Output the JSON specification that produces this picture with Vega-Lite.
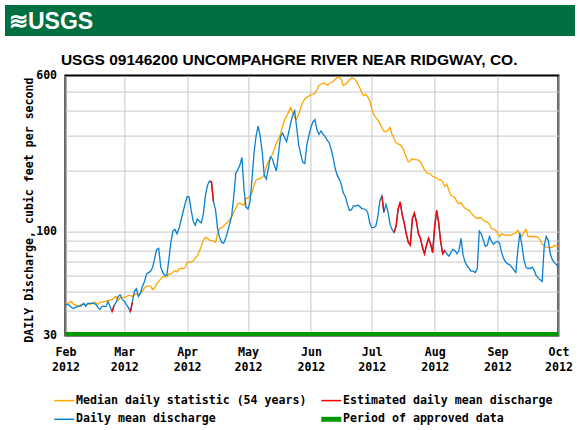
{
  "$schema": "https://vega.github.io/schema/vega-lite/v6.json",
  "background": "white",
  "padding": {"left": 5, "top": 5, "right": 5, "bottom": 0},
  "spacing": 16.6,
  "config": {
    "view": {"stroke": null},
    "axis": {"labelFont": "DejaVu Sans Mono", "labelFontWeight": "bold", "labelFontSize": 11.6, "labelColor": "#000", "titleFont": "DejaVu Sans Mono", "titleFontWeight": "bold", "titleFontSize": 11.6, "titleColor": "#000", "gridColor": "#C8C8C8", "gridWidth": 1, "gridOpacity": 1, "domain": false, "ticks": false}
  },
  "datasets": {
    "median": [
      {"d":"2012-02-01","v":43.5},{"d":"2012-02-02","v":43.5},{"d":"2012-02-03","v":44},{"d":"2012-02-04","v":44.5},{"d":"2012-02-05","v":43},{"d":"2012-02-06","v":42.5},{"d":"2012-02-07","v":42},{"d":"2012-02-08","v":42.5},{"d":"2012-02-09","v":43},{"d":"2012-02-10","v":43},{"d":"2012-02-11","v":43},{"d":"2012-02-12","v":43},{"d":"2012-02-13","v":43},{"d":"2012-02-14","v":43.5},{"d":"2012-02-15","v":44},{"d":"2012-02-16","v":44},{"d":"2012-02-17","v":43},{"d":"2012-02-18","v":44},{"d":"2012-02-19","v":44},{"d":"2012-02-20","v":44.5},{"d":"2012-02-21","v":44.5},{"d":"2012-02-22","v":45},{"d":"2012-02-23","v":45},{"d":"2012-02-24","v":45.5},{"d":"2012-02-25","v":46.5},{"d":"2012-02-26","v":47},{"d":"2012-02-27","v":45},{"d":"2012-02-28","v":46.5},{"d":"2012-02-29","v":46.5},
      {"d":"2012-03-01","v":46.7},{"d":"2012-03-02","v":47},{"d":"2012-03-03","v":47.6},{"d":"2012-03-04","v":47.6},{"d":"2012-03-05","v":47.2},{"d":"2012-03-06","v":48},{"d":"2012-03-07","v":48.5},{"d":"2012-03-08","v":48},{"d":"2012-03-09","v":49},{"d":"2012-03-10","v":50},{"d":"2012-03-11","v":52},{"d":"2012-03-12","v":53},{"d":"2012-03-13","v":53},{"d":"2012-03-14","v":53},{"d":"2012-03-15","v":51},{"d":"2012-03-16","v":52},{"d":"2012-03-17","v":54.4},{"d":"2012-03-18","v":56},{"d":"2012-03-19","v":57.7},{"d":"2012-03-20","v":59},{"d":"2012-03-21","v":59},{"d":"2012-03-22","v":59.2},{"d":"2012-03-23","v":61},{"d":"2012-03-24","v":61},{"d":"2012-03-25","v":62.5},{"d":"2012-03-26","v":63.4},{"d":"2012-03-27","v":62.5},{"d":"2012-03-28","v":64.5},{"d":"2012-03-29","v":65},{"d":"2012-03-30","v":65},{"d":"2012-03-31","v":65.5},
      {"d":"2012-04-01","v":69.8},{"d":"2012-04-02","v":70.4},{"d":"2012-04-03","v":70},{"d":"2012-04-04","v":71},{"d":"2012-04-05","v":73.5},{"d":"2012-04-06","v":75},{"d":"2012-04-07","v":79},{"d":"2012-04-08","v":84},{"d":"2012-04-09","v":90},{"d":"2012-04-10","v":93},{"d":"2012-04-11","v":92},{"d":"2012-04-12","v":90},{"d":"2012-04-13","v":89.5},{"d":"2012-04-14","v":89},{"d":"2012-04-15","v":88},{"d":"2012-04-16","v":97},{"d":"2012-04-17","v":103},{"d":"2012-04-18","v":104},{"d":"2012-04-19","v":106},{"d":"2012-04-20","v":108.5},{"d":"2012-04-21","v":111},{"d":"2012-04-22","v":114},{"d":"2012-04-23","v":118},{"d":"2012-04-24","v":124},{"d":"2012-04-25","v":130},{"d":"2012-04-26","v":137},{"d":"2012-04-27","v":138},{"d":"2012-04-28","v":136},{"d":"2012-04-29","v":135},{"d":"2012-04-30","v":146},
      {"d":"2012-05-01","v":146},{"d":"2012-05-02","v":150},{"d":"2012-05-03","v":156},{"d":"2012-05-04","v":170},{"d":"2012-05-05","v":180},{"d":"2012-05-06","v":183},{"d":"2012-05-07","v":183},{"d":"2012-05-08","v":186},{"d":"2012-05-09","v":190},{"d":"2012-05-10","v":210},{"d":"2012-05-11","v":222},{"d":"2012-05-12","v":232},{"d":"2012-05-13","v":242},{"d":"2012-05-14","v":258},{"d":"2012-05-15","v":275},{"d":"2012-05-16","v":290},{"d":"2012-05-17","v":305},{"d":"2012-05-18","v":335},{"d":"2012-05-19","v":360},{"d":"2012-05-20","v":375},{"d":"2012-05-21","v":395},{"d":"2012-05-22","v":415},{"d":"2012-05-23","v":395},{"d":"2012-05-24","v":370},{"d":"2012-05-25","v":364},{"d":"2012-05-26","v":385},{"d":"2012-05-27","v":415},{"d":"2012-05-28","v":440},{"d":"2012-05-29","v":460},{"d":"2012-05-30","v":467},{"d":"2012-05-31","v":474},
      {"d":"2012-06-01","v":480},{"d":"2012-06-02","v":484},{"d":"2012-06-03","v":490},{"d":"2012-06-04","v":510},{"d":"2012-06-05","v":535},{"d":"2012-06-06","v":543},{"d":"2012-06-07","v":550},{"d":"2012-06-08","v":548},{"d":"2012-06-09","v":536},{"d":"2012-06-10","v":548},{"d":"2012-06-11","v":554},{"d":"2012-06-12","v":562},{"d":"2012-06-13","v":575},{"d":"2012-06-14","v":587},{"d":"2012-06-15","v":587},{"d":"2012-06-16","v":575},{"d":"2012-06-17","v":535},{"d":"2012-06-18","v":543},{"d":"2012-06-19","v":554},{"d":"2012-06-20","v":570},{"d":"2012-06-21","v":583},{"d":"2012-06-22","v":583},{"d":"2012-06-23","v":570},{"d":"2012-06-24","v":550},{"d":"2012-06-25","v":525},{"d":"2012-06-26","v":495},{"d":"2012-06-27","v":475},{"d":"2012-06-28","v":484},{"d":"2012-06-29","v":470},{"d":"2012-06-30","v":450},
      {"d":"2012-07-01","v":410},{"d":"2012-07-02","v":385},{"d":"2012-07-03","v":370},{"d":"2012-07-04","v":360},{"d":"2012-07-05","v":346},{"d":"2012-07-06","v":330},{"d":"2012-07-07","v":316},{"d":"2012-07-08","v":314},{"d":"2012-07-09","v":320},{"d":"2012-07-10","v":330},{"d":"2012-07-11","v":305},{"d":"2012-07-12","v":290},{"d":"2012-07-13","v":277},{"d":"2012-07-14","v":273},{"d":"2012-07-15","v":270},{"d":"2012-07-16","v":263},{"d":"2012-07-17","v":250},{"d":"2012-07-18","v":235},{"d":"2012-07-19","v":222},{"d":"2012-07-20","v":225},{"d":"2012-07-21","v":230},{"d":"2012-07-22","v":228},{"d":"2012-07-23","v":228},{"d":"2012-07-24","v":226},{"d":"2012-07-25","v":222},{"d":"2012-07-26","v":212},{"d":"2012-07-27","v":203},{"d":"2012-07-28","v":196},{"d":"2012-07-29","v":194},{"d":"2012-07-30","v":193.5},{"d":"2012-07-31","v":188},
      {"d":"2012-08-01","v":186},{"d":"2012-08-02","v":185},{"d":"2012-08-03","v":180},{"d":"2012-08-04","v":181},{"d":"2012-08-05","v":176},{"d":"2012-08-06","v":167},{"d":"2012-08-07","v":172},{"d":"2012-08-08","v":160},{"d":"2012-08-09","v":151},{"d":"2012-08-10","v":149},{"d":"2012-08-11","v":147},{"d":"2012-08-12","v":140},{"d":"2012-08-13","v":137},{"d":"2012-08-14","v":139},{"d":"2012-08-15","v":133},{"d":"2012-08-16","v":130},{"d":"2012-08-17","v":128},{"d":"2012-08-18","v":127},{"d":"2012-08-19","v":123},{"d":"2012-08-20","v":120},{"d":"2012-08-21","v":117},{"d":"2012-08-22","v":116},{"d":"2012-08-23","v":116},{"d":"2012-08-24","v":117},{"d":"2012-08-25","v":113},{"d":"2012-08-26","v":112},{"d":"2012-08-27","v":111},{"d":"2012-08-28","v":108},{"d":"2012-08-29","v":103},{"d":"2012-08-30","v":102},{"d":"2012-08-31","v":101},
      {"d":"2012-09-01","v":98},{"d":"2012-09-02","v":94},{"d":"2012-09-03","v":97},{"d":"2012-09-04","v":96},{"d":"2012-09-05","v":95},{"d":"2012-09-06","v":96},{"d":"2012-09-07","v":95},{"d":"2012-09-08","v":96},{"d":"2012-09-09","v":97},{"d":"2012-09-10","v":98},{"d":"2012-09-11","v":101},{"d":"2012-09-12","v":96},{"d":"2012-09-13","v":94},{"d":"2012-09-14","v":99},{"d":"2012-09-15","v":102},{"d":"2012-09-16","v":94},{"d":"2012-09-17","v":94},{"d":"2012-09-18","v":94},{"d":"2012-09-19","v":94},{"d":"2012-09-20","v":94},{"d":"2012-09-21","v":93},{"d":"2012-09-22","v":90},{"d":"2012-09-23","v":86},{"d":"2012-09-24","v":85},{"d":"2012-09-25","v":83},{"d":"2012-09-26","v":83},{"d":"2012-09-27","v":83},{"d":"2012-09-28","v":83},{"d":"2012-09-29","v":85},{"d":"2012-09-30","v":84},{"d":"2012-10-01","v":84}
    ],
    "daily": [
      {"d":"2012-02-01","v":43},{"d":"2012-02-02","v":43},{"d":"2012-02-03","v":42.5},{"d":"2012-02-04","v":41.5},{"d":"2012-02-05","v":41},{"d":"2012-02-06","v":41.5},{"d":"2012-02-07","v":42},{"d":"2012-02-08","v":42},{"d":"2012-02-09","v":42.5},{"d":"2012-02-10","v":43.5},{"d":"2012-02-11","v":42},{"d":"2012-02-12","v":43.5},{"d":"2012-02-13","v":43.5},{"d":"2012-02-14","v":43.5},{"d":"2012-02-15","v":43.5},{"d":"2012-02-16","v":43},{"d":"2012-02-17","v":41.5},{"d":"2012-02-18","v":40.5},{"d":"2012-02-19","v":42},{"d":"2012-02-20","v":42},{"d":"2012-02-21","v":42},{"d":"2012-02-22","v":44.5},{"d":"2012-02-23","v":42},{"d":"2012-02-24","v":39.5},{"d":"2012-02-25","v":42.5},{"d":"2012-02-26","v":44},{"d":"2012-02-27","v":47},{"d":"2012-02-28","v":48},{"d":"2012-02-29","v":45.5},
      {"d":"2012-03-01","v":44.5},{"d":"2012-03-02","v":43},{"d":"2012-03-03","v":41.5},{"d":"2012-03-04","v":39.5},{"d":"2012-03-05","v":44},{"d":"2012-03-06","v":50},{"d":"2012-03-07","v":51.5},{"d":"2012-03-08","v":47},{"d":"2012-03-09","v":49},{"d":"2012-03-10","v":53},{"d":"2012-03-11","v":56},{"d":"2012-03-12","v":61},{"d":"2012-03-13","v":62},{"d":"2012-03-14","v":63},{"d":"2012-03-15","v":66},{"d":"2012-03-16","v":73},{"d":"2012-03-17","v":81},{"d":"2012-03-18","v":82},{"d":"2012-03-19","v":66},{"d":"2012-03-20","v":62},{"d":"2012-03-21","v":60},{"d":"2012-03-22","v":60},{"d":"2012-03-23","v":72},{"d":"2012-03-24","v":88},{"d":"2012-03-25","v":100},{"d":"2012-03-26","v":102},{"d":"2012-03-27","v":97},{"d":"2012-03-28","v":103},{"d":"2012-03-29","v":113},{"d":"2012-03-30","v":125},{"d":"2012-03-31","v":137},
      {"d":"2012-04-01","v":149},{"d":"2012-04-02","v":148},{"d":"2012-04-03","v":127},{"d":"2012-04-04","v":112},{"d":"2012-04-05","v":107},{"d":"2012-04-06","v":115},{"d":"2012-04-07","v":112},{"d":"2012-04-08","v":110},{"d":"2012-04-09","v":122},{"d":"2012-04-10","v":150},{"d":"2012-04-11","v":169},{"d":"2012-04-12","v":178},{"d":"2012-04-13","v":176},{"d":"2012-04-14","v":140},{"d":"2012-04-15","v":128},{"d":"2012-04-16","v":103},{"d":"2012-04-17","v":93},{"d":"2012-04-18","v":88},{"d":"2012-04-19","v":87},{"d":"2012-04-20","v":92},{"d":"2012-04-21","v":100},{"d":"2012-04-22","v":109},{"d":"2012-04-23","v":120},{"d":"2012-04-24","v":150},{"d":"2012-04-25","v":195},{"d":"2012-04-26","v":203},{"d":"2012-04-27","v":214},{"d":"2012-04-28","v":234},{"d":"2012-04-29","v":163},{"d":"2012-04-30","v":132},
      {"d":"2012-05-01","v":129},{"d":"2012-05-02","v":140},{"d":"2012-05-03","v":183},{"d":"2012-05-04","v":248},{"d":"2012-05-05","v":300},{"d":"2012-05-06","v":335},{"d":"2012-05-07","v":300},{"d":"2012-05-08","v":250},{"d":"2012-05-09","v":190},{"d":"2012-05-10","v":182},{"d":"2012-05-11","v":205},{"d":"2012-05-12","v":235},{"d":"2012-05-13","v":230},{"d":"2012-05-14","v":213},{"d":"2012-05-15","v":200},{"d":"2012-05-16","v":243},{"d":"2012-05-17","v":295},{"d":"2012-05-18","v":310},{"d":"2012-05-19","v":295},{"d":"2012-05-20","v":280},{"d":"2012-05-21","v":310},{"d":"2012-05-22","v":345},{"d":"2012-05-23","v":380},{"d":"2012-05-24","v":400},{"d":"2012-05-25","v":330},{"d":"2012-05-26","v":270},{"d":"2012-05-27","v":243},{"d":"2012-05-28","v":221},{"d":"2012-05-29","v":218},{"d":"2012-05-30","v":270},{"d":"2012-05-31","v":300},
      {"d":"2012-06-01","v":330},{"d":"2012-06-02","v":352},{"d":"2012-06-03","v":361},{"d":"2012-06-04","v":320},{"d":"2012-06-05","v":305},{"d":"2012-06-06","v":317},{"d":"2012-06-07","v":305},{"d":"2012-06-08","v":298},{"d":"2012-06-09","v":285},{"d":"2012-06-10","v":277},{"d":"2012-06-11","v":257},{"d":"2012-06-12","v":232},{"d":"2012-06-13","v":205},{"d":"2012-06-14","v":190},{"d":"2012-06-15","v":182},{"d":"2012-06-16","v":171},{"d":"2012-06-17","v":155},{"d":"2012-06-18","v":149},{"d":"2012-06-19","v":136},{"d":"2012-06-20","v":127},{"d":"2012-06-21","v":128},{"d":"2012-06-22","v":134},{"d":"2012-06-23","v":133},{"d":"2012-06-24","v":135},{"d":"2012-06-25","v":133},{"d":"2012-06-26","v":130},{"d":"2012-06-27","v":129},{"d":"2012-06-28","v":128},{"d":"2012-06-29","v":124},{"d":"2012-06-30","v":110},
      {"d":"2012-07-01","v":104},{"d":"2012-07-02","v":104},{"d":"2012-07-03","v":106},{"d":"2012-07-04","v":118},{"d":"2012-07-05","v":142},{"d":"2012-07-06","v":150},{"d":"2012-07-07","v":124},{"d":"2012-07-08","v":136},{"d":"2012-07-09","v":125},{"d":"2012-07-10","v":108},{"d":"2012-07-11","v":102},{"d":"2012-07-12","v":98.5},{"d":"2012-07-13","v":106},{"d":"2012-07-14","v":129},{"d":"2012-07-15","v":140},{"d":"2012-07-16","v":121},{"d":"2012-07-17","v":110},{"d":"2012-07-18","v":97},{"d":"2012-07-19","v":88},{"d":"2012-07-20","v":85},{"d":"2012-07-21","v":115},{"d":"2012-07-22","v":123},{"d":"2012-07-23","v":112},{"d":"2012-07-24","v":97},{"d":"2012-07-25","v":92},{"d":"2012-07-26","v":83},{"d":"2012-07-27","v":77},{"d":"2012-07-28","v":85},{"d":"2012-07-29","v":92},{"d":"2012-07-30","v":86},{"d":"2012-07-31","v":78},
      {"d":"2012-08-01","v":105},{"d":"2012-08-02","v":127},{"d":"2012-08-03","v":110},{"d":"2012-08-04","v":88},{"d":"2012-08-05","v":77},{"d":"2012-08-06","v":80},{"d":"2012-08-07","v":77},{"d":"2012-08-08","v":75},{"d":"2012-08-09","v":78},{"d":"2012-08-10","v":81},{"d":"2012-08-11","v":80},{"d":"2012-08-12","v":77},{"d":"2012-08-13","v":80},{"d":"2012-08-14","v":92},{"d":"2012-08-15","v":76},{"d":"2012-08-16","v":70},{"d":"2012-08-17","v":67},{"d":"2012-08-18","v":65},{"d":"2012-08-19","v":63},{"d":"2012-08-20","v":63},{"d":"2012-08-21","v":62},{"d":"2012-08-22","v":65},{"d":"2012-08-23","v":100},{"d":"2012-08-24","v":97},{"d":"2012-08-25","v":90},{"d":"2012-08-26","v":84},{"d":"2012-08-27","v":85},{"d":"2012-08-28","v":94},{"d":"2012-08-29","v":89},{"d":"2012-08-30","v":86},{"d":"2012-08-31","v":88},
      {"d":"2012-09-01","v":89},{"d":"2012-09-02","v":87},{"d":"2012-09-03","v":78},{"d":"2012-09-04","v":73},{"d":"2012-09-05","v":70},{"d":"2012-09-06","v":68.5},{"d":"2012-09-07","v":68},{"d":"2012-09-08","v":66},{"d":"2012-09-09","v":64},{"d":"2012-09-10","v":62},{"d":"2012-09-11","v":80},{"d":"2012-09-12","v":98},{"d":"2012-09-13","v":85},{"d":"2012-09-14","v":72},{"d":"2012-09-15","v":66},{"d":"2012-09-16","v":65},{"d":"2012-09-17","v":65},{"d":"2012-09-18","v":66},{"d":"2012-09-19","v":64},{"d":"2012-09-20","v":60},{"d":"2012-09-21","v":58.5},{"d":"2012-09-22","v":57},{"d":"2012-09-23","v":56},{"d":"2012-09-24","v":84},{"d":"2012-09-25","v":94},{"d":"2012-09-26","v":90},{"d":"2012-09-27","v":77},{"d":"2012-09-28","v":72},{"d":"2012-09-29","v":69.5},{"d":"2012-09-30","v":68},{"d":"2012-10-01","v":66}
    ],
    "est": [
      {"seg":"a","d":"2012-02-24","v":39.5},{"seg":"a","d":"2012-02-25","v":42.5},
      {"seg":"b","d":"2012-03-04","v":39.5},{"seg":"b","d":"2012-03-05","v":44},
      {"seg":"c","d":"2012-04-12","v":178},{"seg":"c","d":"2012-04-13","v":176},{"seg":"c","d":"2012-04-14","v":140},
      {"seg":"d","d":"2012-07-06","v":150},{"seg":"d","d":"2012-07-07","v":124},
      {"seg":"e","d":"2012-07-12","v":98.5},{"seg":"e","d":"2012-07-13","v":106},{"seg":"e","d":"2012-07-14","v":129},{"seg":"e","d":"2012-07-15","v":140},{"seg":"e","d":"2012-07-16","v":121},{"seg":"e","d":"2012-07-17","v":110},{"seg":"e","d":"2012-07-18","v":97},{"seg":"e","d":"2012-07-19","v":88},{"seg":"e","d":"2012-07-20","v":85},{"seg":"e","d":"2012-07-21","v":115},{"seg":"e","d":"2012-07-22","v":123},{"seg":"e","d":"2012-07-23","v":112},{"seg":"e","d":"2012-07-24","v":97},{"seg":"e","d":"2012-07-25","v":92},{"seg":"e","d":"2012-07-26","v":83},{"seg":"e","d":"2012-07-27","v":77},{"seg":"e","d":"2012-07-28","v":85},{"seg":"e","d":"2012-07-29","v":92},{"seg":"e","d":"2012-07-30","v":86},{"seg":"e","d":"2012-07-31","v":78},{"seg":"e","d":"2012-08-01","v":105},{"seg":"e","d":"2012-08-02","v":127},{"seg":"e","d":"2012-08-03","v":110},{"seg":"e","d":"2012-08-04","v":88},{"seg":"e","d":"2012-08-05","v":77},{"seg":"e","d":"2012-08-06","v":80}
    ],
    "approved": [
      {"d":"2012-02-01","v":30},{"d":"2012-10-01","v":30}
    ]
  },
  "vconcat": [
    {
      "width": 570,
      "height": 31,
      "view": {"fill": "#006F41", "stroke": null},
      "data": {"values": [{"logo": "≋USGS"}]},
      "mark": {"type": "text", "align": "left", "baseline": "middle", "dx": -281, "dy": 1, "font": "Liberation Sans", "fontWeight": "bold", "fontSize": 23, "color": "white"},
      "encoding": {"text": {"field": "logo", "type": "nominal"}}
    },
    {
      "spacing": -6.6,
      "title": {"text": "USGS 09146200 UNCOMPAHGRE RIVER NEAR RIDGWAY, CO.", "font": "Liberation Sans", "fontSize": 15.5, "fontWeight": "bold", "color": "#000", "anchor": "middle", "frame": "bounds", "baseline": "bottom", "offset": -13.6},
      "hconcat": [
        {
          "width": 1,
          "height": 260,
          "data": {"values": []},
          "mark": {"type": "point", "opacity": 0},
          "encoding": {
            "y": {
              "field": "v", "type": "quantitative",
              "scale": {"type": "log", "domain": [30, 600], "nice": false},
              "axis": {
                "orient": "right", "values": [30, 100, 600], "format": "d", "grid": false,
                "labelAlign": "right", "labelPadding": 50.6, "labelOverlap": false,
                "title": "DAILY Discharge, cubic feet per second",
                "titleAngle": 270, "titleX": 23.5, "titleY": 134, "titleAlign": "center", "titleBaseline": "middle"
              }
            }
          }
        },
        {
          "width": 493,
          "height": 260,
          "view": {"stroke": "#000", "strokeWidth": 2},
          "encoding": {
            "x": {
              "field": "d", "type": "temporal",
              "scale": {"type": "utc", "domain": [{"year": 2012, "month": 2, "date": 1, "utc": true}, {"year": 2012, "month": 10, "date": 1, "utc": true}]},
              "axis": {
                "title": null, "grid": true,
                "values": [
                  {"year": 2012, "month": 2, "date": 1, "utc": true}, {"year": 2012, "month": 3, "date": 1, "utc": true}, {"year": 2012, "month": 4, "date": 1, "utc": true}, {"year": 2012, "month": 5, "date": 1, "utc": true}, {"year": 2012, "month": 6, "date": 1, "utc": true}, {"year": 2012, "month": 7, "date": 1, "utc": true}, {"year": 2012, "month": 8, "date": 1, "utc": true}, {"year": 2012, "month": 9, "date": 1, "utc": true}, {"year": 2012, "month": 10, "date": 1, "utc": true}
                ],
                "labelExpr": "[utcFormat(datum.value, '%b'), utcFormat(datum.value, '%Y')]",
                "labelPadding": 11, "labelLineHeight": 15, "labelFlush": false, "labelOverlap": false, "labelAlign": "center", "labelBaseline": "top"
              }
            },
            "y": {
              "field": "v", "type": "quantitative",
              "scale": {"type": "log", "domain": [30, 600], "nice": false},
              "axis": {
                "values": [40, 50, 60, 70, 80, 90, 100, 200, 300, 400, 500],
                "labels": false, "grid": true, "title": null
              }
            }
          },
          "layer": [
            {
              "data": {"name": "median"},
              "mark": {"type": "line", "strokeWidth": 1.3},
              "encoding": {
                "color": {
                  "datum": "Median daily statistic (54 years)", "type": "nominal",
                  "scale": {"domain": ["Median daily statistic (54 years)", "Estimated daily mean discharge", "Daily mean discharge", "Period of approved data"], "range": ["#FFA500", "#FF0000", "#0A80D0", "#009900"]},
                  "legend": {
                    "title": null, "orient": "none", "legendX": 53.5, "legendY": 389.5, "direction": "horizontal", "columns": 2,
                    "symbolType": "stroke", "symbolSize": 400, "symbolStrokeWidth": 1.5,
                    "labelFont": "DejaVu Sans Mono", "labelFontWeight": "bold", "labelFontSize": 11.6, "labelColor": "#000",
                    "labelOffset": 6, "columnPadding": 4, "rowPadding": 2, "labelLimit": 0,
                    "encode": {"symbols": {"update": {"strokeWidth": {"signal": "datum.value === 'Period of approved data' ? 5 : 1.5"}}}}
                  }
                }
              }
            },
            {
              "data": {"name": "daily"},
              "mark": {"type": "line", "strokeWidth": 1.3},
              "encoding": {"color": {"datum": "Daily mean discharge", "type": "nominal"}}
            },
            {
              "data": {"name": "est"},
              "mark": {"type": "line", "strokeWidth": 1.4},
              "encoding": {"color": {"datum": "Estimated daily mean discharge", "type": "nominal"}, "detail": {"field": "seg", "type": "nominal"}}
            },
            {
              "data": {"name": "approved"},
              "mark": {"type": "line", "strokeWidth": 4, "yOffset": -1.5},
              "encoding": {"color": {"datum": "Period of approved data", "type": "nominal"}}
            }
          ]
        }
      ]
    }
  ]
}
